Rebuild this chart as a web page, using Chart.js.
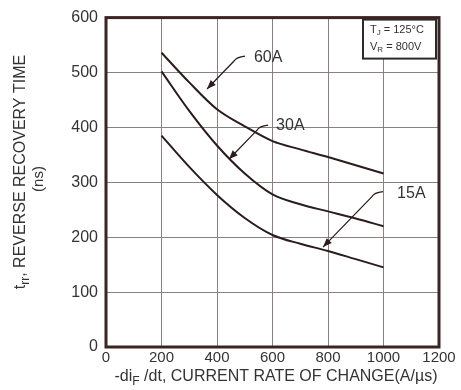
<!DOCTYPE html>
<html>
<head>
<meta charset="utf-8">
<script src="https://cdn.jsdelivr.net/npm/chart.js@4.4.1/dist/chart.umd.min.js"></script>
<style>
  html, body { margin: 0; padding: 0; background: #fff; }
  #wrap { width: 461px; height: 390px; }
</style>
</head>
<body>
<div id="wrap"><canvas id="trrChart" width="461" height="390"></canvas></div>
<script>
// di/dt points (A/us)
var didt = [200, 300, 400, 500, 600, 700, 800, 900, 1000];

// reverse recovery time, ns
var trr60A = [536, 482, 433, 402, 375, 360, 346, 331, 316];
var trr30A = [502, 430, 367, 316, 278, 260, 247, 234, 220];
var trr15A = [385, 328, 277, 235, 204, 188, 175, 160, 145];

var seriesNames = ["60A", "30A", "15A"];

// callouts, in data units: label spot, arrow start, arrow tip
var calloutText = ["60A", "30A", "15A"];
var calloutLabelX = [533, 613, 1049];
var calloutLabelY = [528, 404, 279];
var calloutFromX = [501, 584, 998];
var calloutFromY = [530, 404, 283];
var calloutToX = [364, 443, 782];
var calloutToY = [470, 342, 182];

var FONT = '"Liberation Sans", Arial, sans-serif';
var INK = "#2b1c1c";
var TXT = "#333";

function toPts(ys) {
    return didt.map(function (x, i) { return { x: x, y: ys[i] }; });
}

// draws pieces like [["t",0],["rr",1]] where 1 = subscript
function drawRich(ctx, parts, x, y, size) {
    var cx = x;
    parts.forEach(function (p) {
        var sz = p[1] ? Math.round(size * 0.75) : size;
        ctx.font = sz + "px " + FONT;
        ctx.fillText(p[0], cx, y + (p[1] ? size * 0.3 : 0));
        cx += ctx.measureText(p[0]).width;
    });
    return cx - x;
}
function richWidth(ctx, parts, size) {
    var w = 0;
    parts.forEach(function (p) {
        var sz = p[1] ? Math.round(size * 0.75) : size;
        ctx.font = sz + "px " + FONT;
        w += ctx.measureText(p[0]).width;
    });
    return w;
}

var extras = {
    id: "extras",
    afterDraw: function (chart) {
        var ctx = chart.ctx;
        var a = chart.chartArea;
        var xs = chart.scales.x, ys = chart.scales.y;
        ctx.save();

        // frame
        ctx.strokeStyle = "#3a2424";
        ctx.lineWidth = 3;
        ctx.strokeRect(a.left, a.top, a.right - a.left, a.bottom - a.top);

        // callouts
        ctx.fillStyle = TXT;
        ctx.strokeStyle = INK;
        ctx.textBaseline = "middle";
        ctx.textAlign = "left";
        for (var i = 0; i < calloutText.length; i++) {
            ctx.font = "16px " + FONT;
            ctx.fillText(calloutText[i], xs.getPixelForValue(calloutLabelX[i]), ys.getPixelForValue(calloutLabelY[i]));
            var fx = xs.getPixelForValue(calloutFromX[i]), fy = ys.getPixelForValue(calloutFromY[i]);
            var tx = xs.getPixelForValue(calloutToX[i]), ty = ys.getPixelForValue(calloutToY[i]);
            var hx = fx - 7, hy = fy + 1;
            ctx.lineWidth = 1.2;
            ctx.beginPath();
            ctx.moveTo(fx, fy);
            ctx.quadraticCurveTo(hx - 2, hy, hx - 4, hy + 4);
            ctx.lineTo(tx, ty);
            ctx.stroke();
            var ang = Math.atan2(ty - (hy + 4), tx - (hx - 4));
            ctx.beginPath();
            ctx.moveTo(tx, ty);
            ctx.lineTo(tx - 9 * Math.cos(ang) + 3.5 * Math.sin(ang), ty - 9 * Math.sin(ang) - 3.5 * Math.cos(ang));
            ctx.lineTo(tx - 9 * Math.cos(ang) - 3.5 * Math.sin(ang), ty - 9 * Math.sin(ang) + 3.5 * Math.cos(ang));
            ctx.closePath();
            ctx.fillStyle = INK;
            ctx.fill();
            ctx.fillStyle = TXT;
        }

        // conditions box
        var bx = a.right - 76, by = a.top + 2, bw = 73, bh = 39;
        ctx.fillStyle = "#fff";
        ctx.fillRect(bx, by, bw, bh);
        ctx.strokeStyle = "#2b2b2b";
        ctx.lineWidth = 2;
        ctx.strokeRect(bx, by, bw, bh);
        ctx.fillStyle = TXT;
        drawRich(ctx, [["T", 0], ["J", 1], [" = 125\u00B0C", 0]], bx + 7, by + 10, 11);
        drawRich(ctx, [["V", 0], ["R", 1], [" = 800V", 0]], bx + 7, by + 27, 11);

        // y title
        ctx.save();
        ctx.translate(21, 172);
        ctx.rotate(-Math.PI / 2);
        var yt = [["t", 0], ["rr", 1], [", REVERSE RECOVERY TIME", 0]];
        var w1 = richWidth(ctx, yt, 16);
        drawRich(ctx, yt, -w1 / 2, 0, 16);
        ctx.font = "15px " + FONT;
        ctx.textAlign = "center";
        ctx.fillText("(ns)", -7, 18);
        ctx.restore();

        // x title
        ctx.textAlign = "left";
        var xt = [["-di", 0], ["F", 1], [" /dt, CURRENT RATE OF CHANGE(A/\u00B5s)", 0]];
        var w2 = richWidth(ctx, xt, 16);
        drawRich(ctx, xt, 276 - w2 / 2, 377, 16);

        ctx.restore();
    }
};

var ctx = document.getElementById("trrChart");

var trrChart = new Chart(ctx, {
    type: "line",
    data: {
        datasets: [
            { label: seriesNames[0], data: toPts(trr60A) },
            { label: seriesNames[1], data: toPts(trr30A) },
            { label: seriesNames[2], data: toPts(trr15A) }
        ]
    },
    options: {
        responsive: false,
        animation: false,
        layout: { padding: { top: 14, right: 22, left: 0, bottom: 0 } },
        elements: {
            line: { borderColor: INK, borderWidth: 2, cubicInterpolationMode: "monotone", fill: false },
            point: { radius: 0 }
        },
        plugins: { legend: { display: false }, tooltip: { enabled: false } },
        scales: {
            x: {
                type: "linear",
                min: 0, max: 1200,
                ticks: {
                    stepSize: 200, color: TXT, font: { family: FONT, size: 15 }, padding: 2, maxRotation: 0,
                    callback: function (v) { return String(v); }
                },
                grid: { color: "#8a8080", lineWidth: 1, drawTicks: false },
                border: { display: false },
                afterFit: function (s) { s.height = 43; }
            },
            y: {
                min: 0, max: 600,
                ticks: { stepSize: 100, color: TXT, font: { family: FONT, size: 16 }, padding: 8 },
                grid: { color: "#8a8080", lineWidth: 1, drawTicks: false },
                border: { display: false },
                afterFit: function (s) { s.width = 106; }
            }
        }
    },
    plugins: [extras]
});
</script>
</body>
</html>
